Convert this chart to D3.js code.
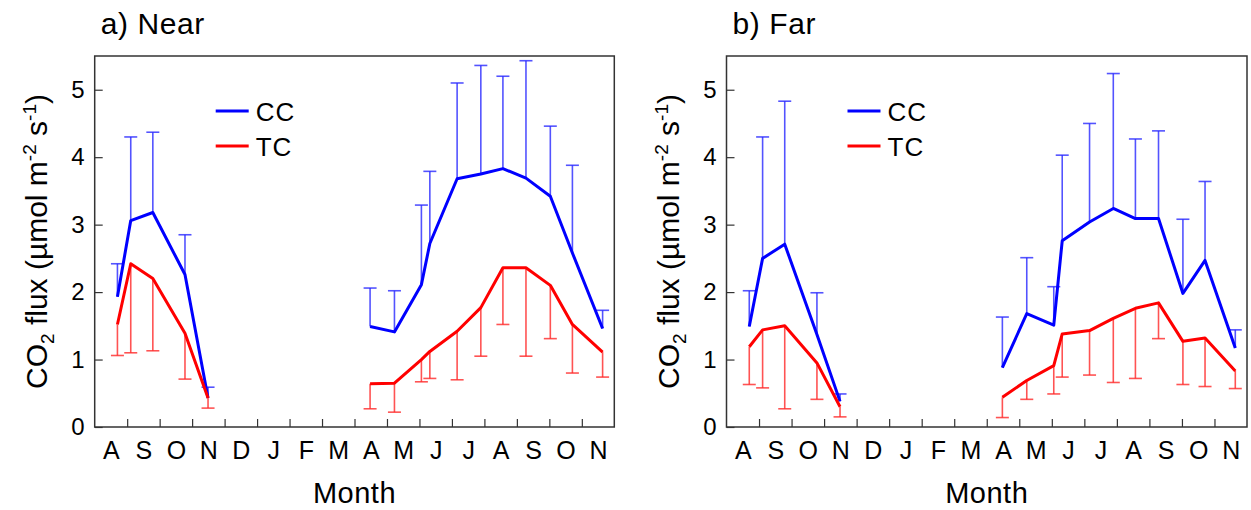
<!DOCTYPE html>
<html>
<head>
<meta charset="utf-8">
<script src="https://cdn.jsdelivr.net/npm/d3@7"></script>
<style>
    body { margin: 0; background: #fff; }
    svg { display: block; font-family: "Liberation Sans", Arial, sans-serif; }
</style>
</head>
<body>
<svg id="chart" width="1251" height="510"></svg>
<script>
// Month labels (Aug .. Nov of the following year)
const months = ["A", "S", "O", "N", "D", "J", "F", "M", "A", "M", "J", "J", "A", "S", "O", "N"];
// sampling dates, as position in months from 1 Aug
const samplePos = [0.70, 1.11, 1.79, 2.78, 3.49, 8.48, 9.23, 10.06, 10.32, 11.16, 11.89, 12.57, 13.28, 14.03, 14.71, 15.64];

const nearCC = [1.93, 3.06, 3.18, 2.26, 0.43, 1.49, 1.41, 2.11, 2.72, 3.68, 3.75, 3.83, 3.69, 3.42, 2.58, 1.46];
const nearCCsd = [0.49, 1.24, 1.19, 0.59, 0.16, 0.57, 0.61, 1.18, 1.07, 1.42, 1.61, 1.37, 1.74, 1.04, 1.30, 0.27];
const nearTC = [1.52, 2.42, 2.20, 1.39, 0.43, 0.64, 0.65, 1.00, 1.12, 1.42, 1.77, 2.36, 2.36, 2.10, 1.52, 1.11];
const nearTCsd = [0.46, 1.32, 1.07, 0.68, 0.15, 0.37, 0.43, 0.33, 0.40, 0.72, 0.72, 0.84, 1.31, 0.79, 0.72, 0.37];

const farCC = [1.49, 2.50, 2.71, 1.37, 0.38, 0.88, 1.68, 1.51, 2.76, 3.04, 3.24, 3.09, 3.09, 1.98, 2.47, 1.17];
const farCCsd = [0.53, 1.80, 2.12, 0.62, 0.11, 0.75, 0.83, 0.57, 1.27, 1.46, 2.00, 1.18, 1.30, 1.10, 1.17, 0.27];
const farTC = [1.19, 1.44, 1.50, 0.95, 0.30, 0.44, 0.69, 0.91, 1.38, 1.43, 1.61, 1.76, 1.84, 1.27, 1.32, 0.83];
const farTCsd = [0.56, 0.86, 1.23, 0.54, 0.15, 0.30, 0.28, 0.42, 0.64, 0.66, 0.95, 1.04, 0.53, 0.64, 0.72, 0.26];

const yTicks = [0, 1, 2, 3, 4, 5];

const panels = [
    { title: "a) Near", left: 94.7, right: 614.3, labelX: 47, cc: nearCC, ccSd: nearCCsd, tc: nearTC, tcSd: nearTCsd },
    { title: "b) Far", left: 726.5, right: 1247, labelX: 679, cc: farCC, ccSd: farCCsd, tc: farTC, tcSd: farTCsd },
];

const plotTop = 56, plotBottom = 427;
const svg = d3.select("#chart");

panels.forEach((p) => {
    const x = d3.scaleLinear().domain([0, 16]).range([p.left, p.right]);
    const y = d3.scaleLinear().domain([0, 5.5]).range([plotBottom, plotTop]);
    const g = svg.append("g");

    // y axis, ticks pointing inward
    g.append("g")
        .attr("transform", `translate(${p.left},0)`)
        .call(d3.axisLeft(y).tickValues(yTicks).tickSize(-8).tickPadding(10).tickFormat(d3.format("d")))
        .call((a) => a.select(".domain").remove())
        .call((a) => a.selectAll("line").attr("stroke", "#333").attr("stroke-width", 1.2))
        .call((a) => a.selectAll("text").attr("font-size", 24).attr("fill", "#000").attr("font-family", null));

    // x axis: ticks on month boundaries, labels centred in months
    g.append("g")
        .attr("transform", `translate(0,${plotBottom})`)
        .call(d3.axisBottom(x).tickValues(d3.range(1, 16)).tickSize(-8).tickFormat(""))
        .call((a) => a.select(".domain").remove())
        .call((a) => a.selectAll("line").attr("stroke", "#333").attr("stroke-width", 1.2));

    g.append("g")
        .attr("transform", `translate(0,${plotBottom})`)
        .call(d3.axisBottom(x).tickValues(d3.range(0.5, 16, 1)).tickSize(0).tickPadding(0)
            .tickFormat((d, i) => months[i]))
        .call((a) => a.select(".domain").remove())
        .call((a) => a.selectAll("text").attr("font-size", 25).attr("fill", "#000")
            .attr("font-family", null).attr("dy", null).attr("y", 32));

    // frame
    g.append("rect")
        .attr("x", p.left).attr("y", plotTop)
        .attr("width", p.right - p.left).attr("height", plotBottom - plotTop)
        .attr("fill", "none").attr("stroke", "#333").attr("stroke-width", 1.5);

    const series = [
        { vals: p.cc, sd: p.ccSd, color: "#0000ff", bar: "rgba(40,40,255,0.8)", dir: 1 },
        { vals: p.tc, sd: p.tcSd, color: "#ff0000", bar: "rgba(255,40,40,0.8)", dir: -1 },
    ];

    const line = d3.line().x((d) => x(d.pos)).y((d) => y(d.v));

    series.forEach((s) => {
        const pts = s.vals.map((v, i) => ({ pos: samplePos[i], v, sd: s.sd[i] }));
        const end = (d) => y(d.v + s.dir * d.sd);

        const eb = g.append("g").attr("stroke", s.bar).attr("stroke-width", 1.6).attr("fill", "none");
        eb.selectAll("line.v").data(pts).join("line").attr("class", "v")
            .attr("x1", (d) => x(d.pos)).attr("x2", (d) => x(d.pos))
            .attr("y1", (d) => y(d.v)).attr("y2", end);
        eb.selectAll("line.c").data(pts).join("line").attr("class", "c")
            .attr("x1", (d) => x(d.pos) - 6.5).attr("x2", (d) => x(d.pos) + 6.5)
            .attr("y1", end).attr("y2", end);

        // line is broken over winter (no sampling Dec-Mar)
        const segs = d3.groups(pts, (d) => d.pos > 6).map((e) => e[1]);
        g.append("g").selectAll("path").data(segs).join("path")
            .attr("d", line)
            .attr("fill", "none").attr("stroke", s.color).attr("stroke-width", 3)
            .attr("stroke-linejoin", "round");
    });

    // legend
    const leg = g.append("g").attr("transform", `translate(${p.left + 121},0)`);
    [["CC", "#0000ff", 111], ["TC", "#ff0000", 146]].forEach(([name, col, ly]) => {
        leg.append("line").attr("x1", 0).attr("x2", 33).attr("y1", ly).attr("y2", ly)
            .attr("stroke", col).attr("stroke-width", 3);
        leg.append("text").attr("x", 40).attr("y", ly + 9.5).attr("font-size", 26)
            .attr("letter-spacing", 1).text(name);
    });

    // title
    svg.append("text").attr("x", p.left + 6).attr("y", 34).attr("font-size", 30)
        .attr("letter-spacing", 0.6).text(p.title);

    // axis titles
    svg.append("text")
        .attr("x", (p.left + p.right) / 2).attr("y", 503)
        .attr("text-anchor", "middle").attr("font-size", 29).attr("letter-spacing", 0.5).text("Month");

    const yl = svg.append("text")
        .attr("transform", `translate(${p.labelX},${(plotTop + plotBottom) / 2}) rotate(-90)`)
        .attr("text-anchor", "middle").attr("font-size", 30);
    yl.append("tspan").text("CO");
    yl.append("tspan").attr("font-size", 19).attr("dy", 7).text("2");
    yl.append("tspan").attr("dy", -7).text(" flux (µmol m");
    yl.append("tspan").attr("font-size", 19).attr("dy", -11).text("-2");
    yl.append("tspan").attr("dy", 11).text(" s");
    yl.append("tspan").attr("font-size", 19).attr("dy", -11).text("-1");
    yl.append("tspan").attr("dy", 11).text(")");
});
</script>
</body>
</html>
